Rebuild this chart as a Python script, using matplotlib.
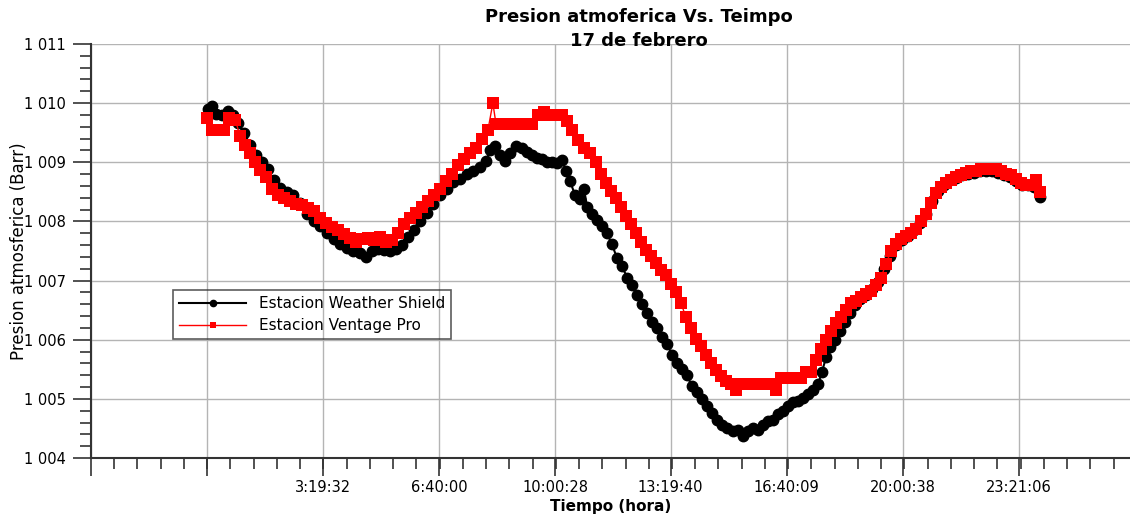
import numpy as np
import matplotlib
matplotlib.use("Agg")
import matplotlib.pyplot as plt
from matplotlib.ticker import FixedLocator, FuncFormatter

# Estacion Weather Shield: (hora decimal, presion)
weather_shield = [
    (0.03, 1009.90), (0.14, 1009.95), (0.26, 1009.82), (0.43, 1009.80), (0.60, 1009.87),
    (0.75, 1009.80), (0.89, 1009.66), (1.06, 1009.50), (1.24, 1009.30), (1.41, 1009.12),
    (1.58, 1009.00), (1.75, 1008.88), (1.93, 1008.70), (2.10, 1008.57), (2.30, 1008.50),
    (2.47, 1008.45), (2.67, 1008.32), (2.88, 1008.12), (3.08, 1008.00), (3.25, 1007.92),
    (3.45, 1007.80), (3.65, 1007.70), (3.82, 1007.62), (4.03, 1007.55), (4.20, 1007.50),
    (4.40, 1007.46), (4.57, 1007.40), (4.74, 1007.50), (4.92, 1007.53), (5.09, 1007.52),
    (5.26, 1007.50), (5.43, 1007.53), (5.61, 1007.60), (5.78, 1007.74), (5.95, 1007.86),
    (6.12, 1008.00), (6.33, 1008.14), (6.50, 1008.30), (6.70, 1008.45), (6.90, 1008.55),
    (7.07, 1008.66), (7.27, 1008.72), (7.48, 1008.80), (7.65, 1008.85), (7.85, 1008.92),
    (8.02, 1009.02), (8.14, 1009.20), (8.28, 1009.28), (8.42, 1009.12), (8.57, 1009.02),
    (8.71, 1009.15), (8.88, 1009.27), (9.06, 1009.24), (9.20, 1009.18), (9.34, 1009.12),
    (9.49, 1009.08), (9.63, 1009.05), (9.78, 1009.01), (9.92, 1009.00), (10.06, 1008.98),
    (10.21, 1009.04), (10.32, 1008.85), (10.44, 1008.68), (10.58, 1008.45), (10.72, 1008.38),
    (10.84, 1008.55), (10.93, 1008.25), (11.07, 1008.12), (11.21, 1008.02), (11.36, 1007.92),
    (11.50, 1007.80), (11.64, 1007.62), (11.79, 1007.38), (11.93, 1007.25), (12.08, 1007.05),
    (12.22, 1006.92), (12.36, 1006.75), (12.51, 1006.60), (12.65, 1006.45), (12.79, 1006.30),
    (12.94, 1006.20), (13.08, 1006.05), (13.23, 1005.92), (13.37, 1005.75), (13.51, 1005.60),
    (13.66, 1005.50), (13.80, 1005.40), (13.94, 1005.22), (14.09, 1005.12), (14.23, 1005.00),
    (14.38, 1004.88), (14.52, 1004.76), (14.66, 1004.65), (14.81, 1004.55), (14.95, 1004.50),
    (15.12, 1004.46), (15.27, 1004.48), (15.41, 1004.38), (15.55, 1004.45), (15.70, 1004.50),
    (15.84, 1004.48), (15.99, 1004.56), (16.13, 1004.62), (16.27, 1004.65), (16.42, 1004.75),
    (16.56, 1004.80), (16.70, 1004.88), (16.85, 1004.95), (16.99, 1004.97), (17.14, 1005.02),
    (17.28, 1005.08), (17.42, 1005.15), (17.57, 1005.25), (17.68, 1005.45), (17.80, 1005.70),
    (17.91, 1005.88), (18.06, 1006.00), (18.20, 1006.15), (18.34, 1006.30), (18.49, 1006.45),
    (18.63, 1006.58), (18.77, 1006.68), (18.95, 1006.76), (19.12, 1006.85), (19.29, 1006.97),
    (19.46, 1007.20), (19.64, 1007.42), (19.81, 1007.60), (19.98, 1007.68), (20.15, 1007.75),
    (20.33, 1007.85), (20.50, 1007.98), (20.67, 1008.12), (20.84, 1008.35), (21.02, 1008.52),
    (21.19, 1008.62), (21.36, 1008.70), (21.53, 1008.74), (21.71, 1008.78), (21.88, 1008.80),
    (22.05, 1008.82), (22.22, 1008.85), (22.40, 1008.85), (22.57, 1008.85), (22.74, 1008.82),
    (22.91, 1008.78), (23.09, 1008.75), (23.26, 1008.68), (23.43, 1008.62), (23.60, 1008.62),
    (23.78, 1008.58), (23.95, 1008.42),
]

# Estacion Ventage Pro: (hora decimal, presion)
ventage_pro = [
    (0.00, 1009.75), (0.14, 1009.55), (0.32, 1009.55), (0.49, 1009.55), (0.63, 1009.75),
    (0.81, 1009.72), (0.95, 1009.45), (1.09, 1009.30), (1.24, 1009.15), (1.38, 1009.00),
    (1.52, 1008.87), (1.70, 1008.75), (1.87, 1008.55), (2.04, 1008.45), (2.21, 1008.40),
    (2.39, 1008.35), (2.56, 1008.30), (2.73, 1008.28), (2.90, 1008.22), (3.08, 1008.18),
    (3.25, 1008.05), (3.42, 1007.98), (3.59, 1007.90), (3.77, 1007.85), (3.94, 1007.78),
    (4.11, 1007.72), (4.28, 1007.66), (4.46, 1007.70), (4.63, 1007.72), (4.80, 1007.68),
    (4.97, 1007.74), (5.15, 1007.66), (5.32, 1007.68), (5.49, 1007.80), (5.66, 1007.95),
    (5.84, 1008.05), (6.01, 1008.15), (6.18, 1008.25), (6.35, 1008.35), (6.53, 1008.45),
    (6.70, 1008.55), (6.87, 1008.68), (7.04, 1008.80), (7.22, 1008.95), (7.39, 1009.05),
    (7.56, 1009.15), (7.73, 1009.25), (7.91, 1009.40), (8.08, 1009.55), (8.22, 1010.00),
    (8.31, 1009.65), (8.48, 1009.65), (8.65, 1009.65), (8.83, 1009.65), (9.00, 1009.65),
    (9.17, 1009.65), (9.34, 1009.65), (9.52, 1009.80), (9.69, 1009.85), (9.86, 1009.80),
    (10.03, 1009.80), (10.21, 1009.80), (10.35, 1009.70), (10.49, 1009.55), (10.67, 1009.38),
    (10.84, 1009.25), (11.01, 1009.15), (11.18, 1009.00), (11.33, 1008.80), (11.47, 1008.65),
    (11.62, 1008.52), (11.76, 1008.40), (11.90, 1008.25), (12.05, 1008.10), (12.19, 1007.95),
    (12.33, 1007.80), (12.48, 1007.65), (12.62, 1007.52), (12.77, 1007.42), (12.91, 1007.30),
    (13.05, 1007.18), (13.20, 1007.10), (13.34, 1006.95), (13.48, 1006.80), (13.63, 1006.62),
    (13.77, 1006.38), (13.92, 1006.20), (14.06, 1006.02), (14.20, 1005.90), (14.35, 1005.75),
    (14.49, 1005.60), (14.63, 1005.48), (14.78, 1005.38), (14.92, 1005.30), (15.07, 1005.25),
    (15.21, 1005.15), (15.35, 1005.25), (15.50, 1005.25), (15.64, 1005.25), (15.78, 1005.25),
    (15.93, 1005.25), (16.07, 1005.25), (16.22, 1005.25), (16.36, 1005.15), (16.50, 1005.35),
    (16.65, 1005.35), (16.79, 1005.35), (16.93, 1005.35), (17.08, 1005.35), (17.22, 1005.45),
    (17.37, 1005.45), (17.51, 1005.65), (17.65, 1005.85), (17.80, 1006.00), (17.94, 1006.15),
    (18.08, 1006.28), (18.23, 1006.38), (18.37, 1006.50), (18.52, 1006.62), (18.66, 1006.65),
    (18.80, 1006.72), (18.95, 1006.78), (19.09, 1006.82), (19.23, 1006.92), (19.38, 1007.05),
    (19.52, 1007.28), (19.67, 1007.50), (19.81, 1007.62), (19.95, 1007.70), (20.10, 1007.75),
    (20.24, 1007.80), (20.38, 1007.88), (20.53, 1008.00), (20.67, 1008.12), (20.82, 1008.32),
    (20.96, 1008.48), (21.10, 1008.58), (21.25, 1008.65), (21.39, 1008.70), (21.53, 1008.75),
    (21.68, 1008.78), (21.82, 1008.82), (21.97, 1008.85), (22.11, 1008.85), (22.25, 1008.88),
    (22.40, 1008.88), (22.54, 1008.88), (22.68, 1008.88), (22.83, 1008.85), (22.97, 1008.80),
    (23.12, 1008.78), (23.26, 1008.72), (23.40, 1008.65), (23.55, 1008.62), (23.69, 1008.62),
    (23.83, 1008.70), (23.95, 1008.50),
]

# Etiquetas del eje x (hora) y sus posiciones en horas decimales
tick_labels = ["", "", "3:19:32", "6:40:00", "10:00:28", "13:19:40", "16:40:09", "20:00:38", "23:21:06"]
tick_hours = [-3.335, 0.0, 3.3256, 6.6667, 10.0078, 13.3278, 16.6692, 20.0106, 23.3517]

ws_t, ws_p = zip(*weather_shield)
vp_t, vp_p = zip(*ventage_pro)

fig = plt.figure(figsize=(11.3, 5.21), dpi=100)
ax = fig.add_axes([91 / 1130, 1 - 458 / 521, 1039 / 1130, 414 / 521])

ax.plot(ws_t, ws_p, color='black', linewidth=1.5, marker='o', markersize=7.5,
        label='Estacion Weather Shield', zorder=3)
ax.plot(vp_t, vp_p, color='red', linewidth=1.0, marker='s', markersize=8,
        markeredgewidth=0, label='Estacion Ventage Pro', zorder=4)

ax.set_xlim(-3.335, 26.54)
ax.set_ylim(1004, 1011)

# ticks
ax.xaxis.set_major_locator(FixedLocator(tick_hours))
ax.set_xticklabels(tick_labels)
step = tick_hours[3] - tick_hours[2]
ax.xaxis.set_minor_locator(FixedLocator(np.arange(-3.335, 26.6, step / 5)))
ax.set_yticks(np.arange(1004, 1012, 1))
ax.yaxis.set_minor_locator(FixedLocator(np.arange(1004, 1011.01, 0.2)))
ax.yaxis.set_major_formatter(FuncFormatter(lambda v, pos: f"{int(round(v)):,}".replace(',', ' ')))

ax.tick_params(which='major', length=13, width=1.2, color='#333333', labelsize=10.5, pad=5)
ax.tick_params(which='minor', length=8, width=1.2, color='#333333')
ax.tick_params(axis='x', which='major', pad=3)

ax.grid(True, which='major', color='#b4b4b4', linewidth=1.0, zorder=0)
ax.set_axisbelow(True)

ax.spines['top'].set_visible(False)
ax.spines['right'].set_visible(False)
ax.spines['left'].set_color('#333333')
ax.spines['bottom'].set_color('#333333')
ax.spines['left'].set_linewidth(1.5)
ax.spines['bottom'].set_linewidth(1.5)

ax.set_xlabel('Tiempo (hora)', fontsize=11, fontweight='bold')
ax.xaxis.set_label_coords(0.5, -(499 - 458) / 414)
ax.set_ylabel('Presion atmosferica (Barr)', fontsize=12)
ax.yaxis.set_label_coords((28 - 91) / 1039, 0.5)

fig.text(639 / 1130, 1 - 8 / 521, 'Presion atmoferica Vs. Teimpo\n17 de febrero',
         ha='center', va='top', fontsize=13, fontweight='bold', linespacing=1.4)

leg = ax.legend(loc='lower left', bbox_to_anchor=((173 - 91) / 1039, (458 - 339) / 414),
                borderaxespad=0, fontsize=11, handlelength=4.4, numpoints=1,
                fancybox=False, facecolor='none', edgecolor='#333333',
                labelspacing=0.45, borderpad=0.4, handletextpad=0.8, markerscale=0.6)
leg.get_frame().set_linewidth(1.2)

plt.savefig('out.png', dpi=100)
